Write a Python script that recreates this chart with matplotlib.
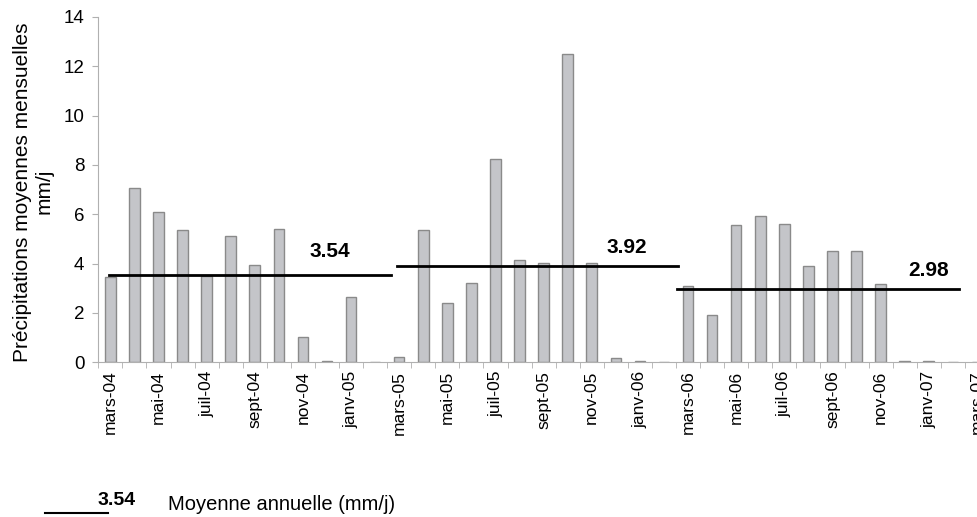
import matplotlib.pyplot as plt
import numpy as np
from matplotlib.lines import Line2D

plt.rcParams['font.family'] = ['Liberation Sans', 'DejaVu Sans']

# mois de mars-04 a mars-07
mois = ['mars', 'avr', 'mai', 'juin', 'juil', 'août', 'sept', 'oct', 'nov', 'déc', 'janv', 'févr']
annees_debut = ['04', '05', '06']
etiquettes = []
for k, a in enumerate(annees_debut):
    for j, m in enumerate(mois):
        an = a if j < 10 else '%02d' % (int(a) + 1)
        etiquettes.append(m + '-' + an)
etiquettes.append('mars-07')

# precipitations moyennes mensuelles (mm/j)
precip = [3.45, 7.07, 6.08, 5.37, 3.50, 5.12, 3.95, 5.42, 1.04, 0.07, 2.66, 0.0,
          0.21, 5.37, 2.42, 3.20, 8.25, 4.15, 4.04, 12.51, 4.03, 0.16, 0.06, 0.0,
          3.11, 1.93, 5.57, 5.95, 5.60, 3.92, 4.52, 4.52, 3.19, 0.06, 0.06, 0.0,
          0.0]

# moyennes annuelles
moyennes = [3.54, 3.92, 2.98]
debut_fin = [(-0.06, 11.66), (11.91, 23.58), (23.54, 35.27)]
pos_texte = [(9.11, 4.49), (21.47, 4.66), (34.0, 3.71)]

fig = plt.figure(figsize=(9.78, 5.17), dpi=100)
ax = fig.add_axes([0.1005, 0.2992, 0.9107, 0.668])

x = np.arange(len(precip))
ax.bar(x, precip, width=0.44, color='#c4c5c9', edgecolor='#8a8a8a', linewidth=1.0, zorder=2)

for moy, (x0, x1), (tx, ty) in zip(moyennes, debut_fin, pos_texte):
    ax.plot([x0, x1], [moy, moy], color='black', lw=2, zorder=3)
    ax.text(tx, ty, '%.2f' % moy, ha='center', va='center', fontsize=15, fontweight='bold')

ax.set_xlim(-0.5, len(precip) - 0.5)
ax.set_ylim(0, 14)
ax.set_yticks(np.arange(0, 15, 2))
ax.tick_params(axis='y', labelsize=13.5, length=4, color='#b0b0b0', pad=6)

ax.set_xticks(x[::2])
ax.set_xticklabels(etiquettes[::2], rotation=90, fontsize=12.5)
ax.set_xticks(np.arange(-0.5, len(precip), 1), minor=True)
ax.tick_params(axis='x', which='major', length=0, pad=6)
ax.tick_params(axis='x', which='minor', length=4, color='#b0b0b0')

for s in ['top', 'right']:
    ax.spines[s].set_visible(False)
for s in ['left', 'bottom']:
    ax.spines[s].set_color('#b0b0b0')

fig.text(0.034, 0.629, 'Précipitations moyennes mensuelles\nmm/j', rotation=90,
         ha='center', va='center', multialignment='center', fontsize=15)

# legende en bas
fig.add_artist(Line2D([0.046, 0.110], [0.0077, 0.0077], color='black', lw=1.5,
                      transform=fig.transFigure))
fig.text(0.119, 0.031, '3.54', ha='center', va='center', fontsize=14, fontweight='bold')
fig.text(0.1718, 0.025, 'Moyenne annuelle (mm/j)', ha='left', va='center', fontsize=14.5)

fig.savefig('out.png', dpi=100)
